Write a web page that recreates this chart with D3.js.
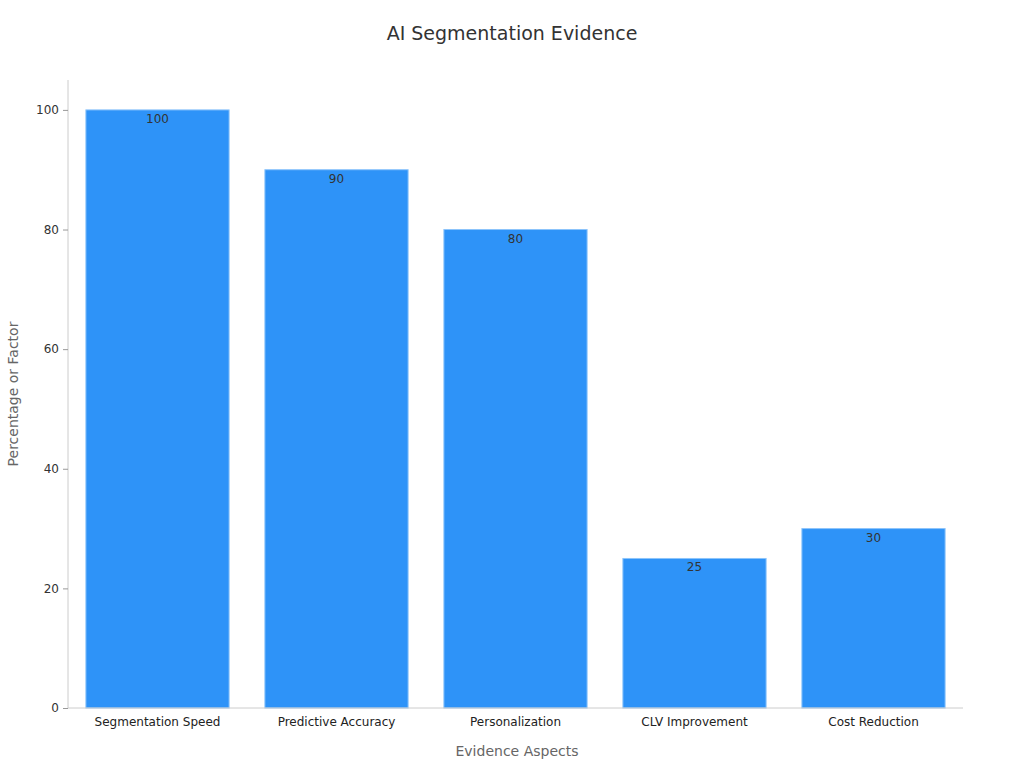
<!DOCTYPE html>
<html><head><meta charset="utf-8">
<script src="https://cdn.jsdelivr.net/npm/d3@7"></script>
<style>body{margin:0;background:#fff;font-family:"DejaVu Sans",sans-serif}</style>
</head><body>
<svg id="c" width="1024" height="768"></svg>
<script>
const categories=["Segmentation Speed","Predictive Accuracy","Personalization","CLV Improvement","Cost Reduction"];
const values=[100,90,80,25,30];
const yTicks=[0,20,40,60,80,100];
const svg=d3.select("#c");
const x=d3.scaleBand().domain(categories).range([68,963]).paddingInner(0.2).paddingOuter(0.1);
const y=d3.scaleLinear().domain([0,105]).range([708,80]);
svg.append("text").attr("x",512).attr("y",40).attr("text-anchor","middle").attr("font-size",19).attr("fill","#333").text("AI Segmentation Evidence");
svg.selectAll("rect.b").data(values).join("rect").attr("class","b")
 .attr("x",(d,i)=>x(categories[i])).attr("width",x.bandwidth())
 .attr("y",d=>y(d)).attr("height",d=>y(0)-y(d))
 .attr("fill","#2E93F8").attr("stroke","#8cc4fb").attr("stroke-width",1);
svg.selectAll("text.v").data(values).join("text").attr("class","v")
 .attr("x",(d,i)=>x(categories[i])+x.bandwidth()/2).attr("y",d=>y(d)+13)
 .attr("text-anchor","middle").attr("font-size",12).attr("fill","#333").text(d=>d);
const ya=svg.append("g").attr("transform","translate(68,0)").call(d3.axisLeft(y).tickValues(yTicks).tickSize(5).tickPadding(4));
ya.select(".domain").attr("stroke","#ccc").attr("d","M0,80V708");
ya.selectAll(".tick line").attr("stroke","#999");
ya.selectAll("text").attr("font-size",12).attr("fill","#333").attr("font-family","DejaVu Sans");
const xa=svg.append("g").attr("transform","translate(0,708)").call(d3.axisBottom(x).tickSize(0).tickPadding(9));
xa.select(".domain").attr("stroke","#ccc").attr("d","M68,0H963");
xa.selectAll("text").attr("font-size",12).attr("fill","#222").attr("font-family","DejaVu Sans");
svg.append("text").attr("x",517).attr("y",756).attr("text-anchor","middle").attr("font-size",14).attr("fill","#666").text("Evidence Aspects");
svg.append("text").attr("transform","translate(18,394) rotate(-90)").attr("text-anchor","middle").attr("font-size",14).attr("fill","#666").text("Percentage or Factor");
</script></body></html>
